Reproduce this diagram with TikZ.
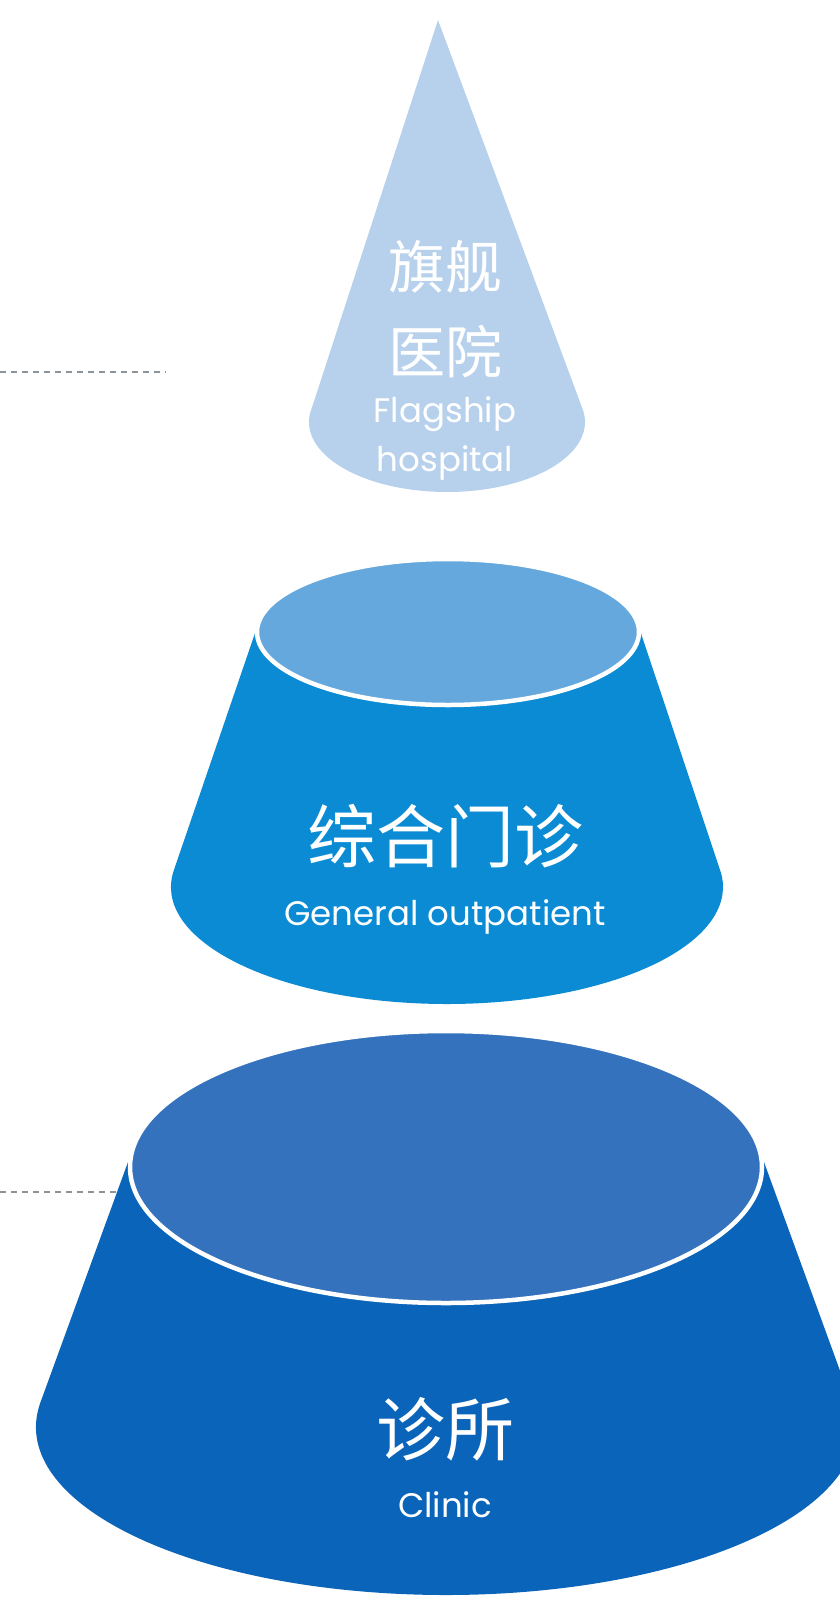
\documentclass[tikz,border=0pt]{standalone}
\usepackage{fontspec}
\setmainfont{Poppins}
\newfontfamily\cjk{Noto Sans CJK SC}
\definecolor{conecol}{HTML}{B7D1EC}
\definecolor{midside}{HTML}{0A8BD3}
\definecolor{midtop}{HTML}{64A8DD}
\definecolor{botside}{HTML}{0A64B9}
\definecolor{bottop}{HTML}{3572BD}
\definecolor{guidecol}{HTML}{8C9399}
\begin{document}
\begin{tikzpicture}[x=1pt,y=1pt,
  guide/.style={dash pattern=on 6pt off 5pt, line width=1.5pt, draw=guidecol},
  rim/.style={draw=white, line width=4.5pt},
  zh/.style={text=white, inner sep=0pt, font=\cjk\fontsize{57}{57}\selectfont},
  zhbig/.style={text=white, inner sep=0pt, font=\cjk\fontsize{69}{69}\selectfont},
  en/.style={text=white, inner sep=0pt, font=\fontsize{34}{34}\selectfont}]
\useasboundingbox (0,0) rectangle (840,-1599);
\clip (0,0) rectangle (840,-1599);

% dashed guide lines
\coordinate (g1a) at (0,-372);
\coordinate (g1b) at (166,-372);
\coordinate (g2a) at (0,-1192);
\coordinate (g2b) at (130,-1192);
\draw[guide] (g1a) -- (g1b);
\draw[guide] (g2a) -- (g2b);

% top: cone
\fill[conecol] (438,-20) -- ([shift={(168:138 and 70)}]447,-422)
  arc[start angle=168, end angle=372, x radius=138, y radius=70] -- cycle;
\node[zh] (cone1) at (445,-267) {旗舰};
\node[zh] (cone2) at (445,-352) {医院};
\node[en] (cone3) at (445,-414) {Flagship};
\node[en] (cone4) at (445,-463) {hospital};

% middle: frustum
\fill[midside] ([shift={(172:191 and 73)}]448,-632) -- ([shift={(172:276 and 117)}]447,-887)
  arc[start angle=172, end angle=368, x radius=276, y radius=117]
  -- ([shift={(8:191 and 73)}]448,-632) -- cycle;
\draw[rim, fill=midtop] (448,-632) ellipse[x radius=191, y radius=73];
\node[zhbig] (mid1) at (445,-836) {综合门诊};
\node[en] (mid2) at (445,-917) {General outpatient};

% bottom: frustum
\fill[botside] ([shift={(172:316 and 136)}]446,-1167) -- ([shift={(172:410 and 168)}]446,-1427)
  arc[start angle=172, end angle=368, x radius=410, y radius=168]
  -- ([shift={(8:316 and 136)}]446,-1167) -- cycle;
\draw[rim, fill=bottop] (446,-1167) ellipse[x radius=316, y radius=136];
\node[zhbig] (bot1) at (445,-1429) {诊所};
\node[en] (bot2) at (445,-1505) {Clinic};
\end{tikzpicture}
\end{document}
